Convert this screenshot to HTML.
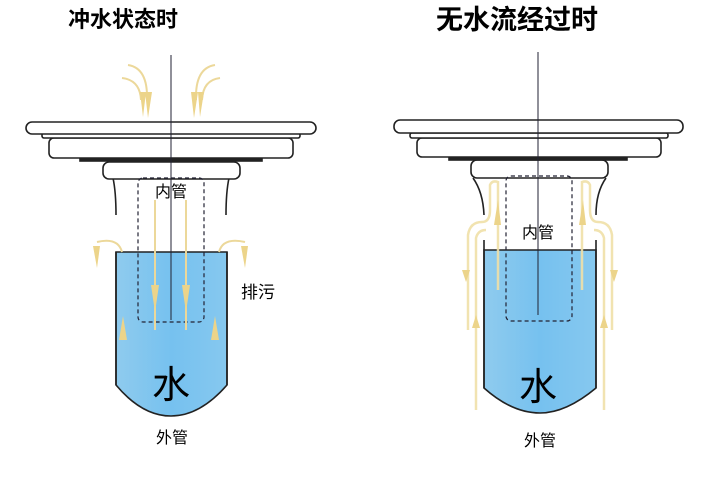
<!DOCTYPE html>
<html><head><meta charset="utf-8"><style>
html,body{margin:0;padding:0;background:#fff;}
svg{display:block;}
text{font-family:"Liberation Sans","Noto Sans CJK SC",sans-serif;}
</style></head><body>
<svg width="719" height="483" viewBox="0 0 719 483" xmlns="http://www.w3.org/2000/svg">
<defs>
<linearGradient id="w" x1="0" x2="1" y1="0" y2="0">
<stop offset="0" stop-color="#8fcbee"/><stop offset="0.5" stop-color="#76c1ef"/><stop offset="1" stop-color="#86c8ef"/>
</linearGradient>
</defs>
<text x="123" y="27" font-size="22" font-weight="bold" text-anchor="middle">冲水状态时</text>
<text x="517" y="29" font-size="27" font-weight="bold" text-anchor="middle">无水流经过时</text>

<!-- LEFT -->
<g stroke="#222" stroke-width="1.6" fill="#fff">
<path d="M116 252 H227 V385 Q200 416 171 416 Q142 416 116 385 Z" fill="url(#w)"/>
<path d="M116 252 V385" fill="none"/><path d="M227 252 V385" fill="none"/>
<path d="M113 178 Q116 192 116 215 M229 178 Q226 192 226 215" fill="none"/>
<rect x="103" y="162" width="137" height="17" rx="6"/>
<rect x="80" y="157" width="182" height="4" fill="#222"/>
<rect x="49" y="138" width="244" height="20" rx="5"/>
<rect x="42" y="133" width="258" height="5" rx="2"/>
<rect x="26" y="122" width="290" height="12" rx="6"/>
</g>
<rect x="138" y="178" width="66" height="144" rx="5" fill="none" stroke="#223" stroke-width="1.2" stroke-dasharray="4,3"/>
<line x1="171" y1="55" x2="171" y2="320" stroke="#223" stroke-width="1"/>
<g stroke="#ecd89a" stroke-width="2" fill="none">
<path d="M128 65 Q148 68 147 100"/><path d="M122 78 Q140 80 141 100"/>
<path d="M215 65 Q195 68 196 100"/><path d="M220 78 Q203 80 202 100"/>
<path d="M155 200 V330"/><path d="M186 200 V330"/>
<path d="M122 252 Q118 237 97 242"/><path d="M219 252 Q223 237 245 242"/>
</g>
<g fill="#ecd48a">
<path d="M140 92 L146 92 L143 117Z"/><path d="M145 92 L152 92 L148 118Z"/>
<path d="M191 92 L198 92 L194 118Z"/><path d="M198 92 L204 92 L200 117Z"/>
<path d="M93 246 L100 246 L97 268Z"/><path d="M241 246 L248 246 L245 268Z"/>
<path d="M151 285 L159 285 L155 312Z"/><path d="M182 285 L190 285 L186 312Z"/>
<path d="M119 340 L127 340 L123 316Z"/><path d="M211 340 L219 340 L215 316Z"/>
</g>
<text x="171" y="197" font-size="16" text-anchor="middle">内管</text>
<text x="258" y="298" font-size="17" text-anchor="middle">排污</text>
<text x="171" y="398" font-size="38" text-anchor="middle">水</text>
<text x="172" y="443" font-size="16" text-anchor="middle">外管</text>

<!-- RIGHT -->
<g stroke="#222" stroke-width="1.6" fill="#fff">
<path d="M484 250 H596 V388 Q566 413 540 413 Q512 413 484 388 Z" fill="url(#w)"/>
<path d="M484 240 V388 M596 240 V388" fill="none"/>
<path d="M473 178 Q483 192 484 215 M606 178 Q596 192 596 215" fill="none"/>
<rect x="471" y="160" width="137" height="18" rx="6"/>
<rect x="449" y="156" width="178" height="4" fill="#222"/>
<rect x="417" y="138" width="244" height="19" rx="5"/>
<rect x="410" y="133" width="258" height="5" rx="2"/>
<rect x="394" y="120" width="289" height="13" rx="6"/>
</g>
<rect x="506" y="176" width="66" height="145" rx="5" fill="none" stroke="#223" stroke-width="1.2" stroke-dasharray="4,3"/>
<line x1="538" y1="52" x2="538" y2="315" stroke="#223" stroke-width="1"/>
<g stroke="#f0e0a8" stroke-width="2.5" fill="none" opacity="0.9">
<path d="M468 330 V235 Q470 222 482 222 Q490 222 490 210 V185 Q492 180 498 182 V290"/>
<path d="M476 410 V238 Q478 230 486 230"/>
<path d="M612 330 V235 Q610 222 598 222 Q590 222 590 210 V185 Q588 180 582 182 V290"/>
<path d="M604 410 V238 Q602 230 594 230"/>
</g>
<g fill="#ecd48a">
<path d="M462 270 L470 270 L466 282Z"/><path d="M472 328 L480 328 L476 315Z"/>
<path d="M610 270 L618 270 L614 282Z"/><path d="M600 328 L608 328 L604 315Z"/>
<path d="M494 225 L501 225 L498 200Z"/><path d="M579 225 L586 225 L583 200Z"/>
</g>
<text x="538" y="238" font-size="16" text-anchor="middle">内管</text>
<text x="538" y="400" font-size="38" text-anchor="middle">水</text>
<text x="540" y="446" font-size="16" text-anchor="middle">外管</text>
</svg>
</body></html>
